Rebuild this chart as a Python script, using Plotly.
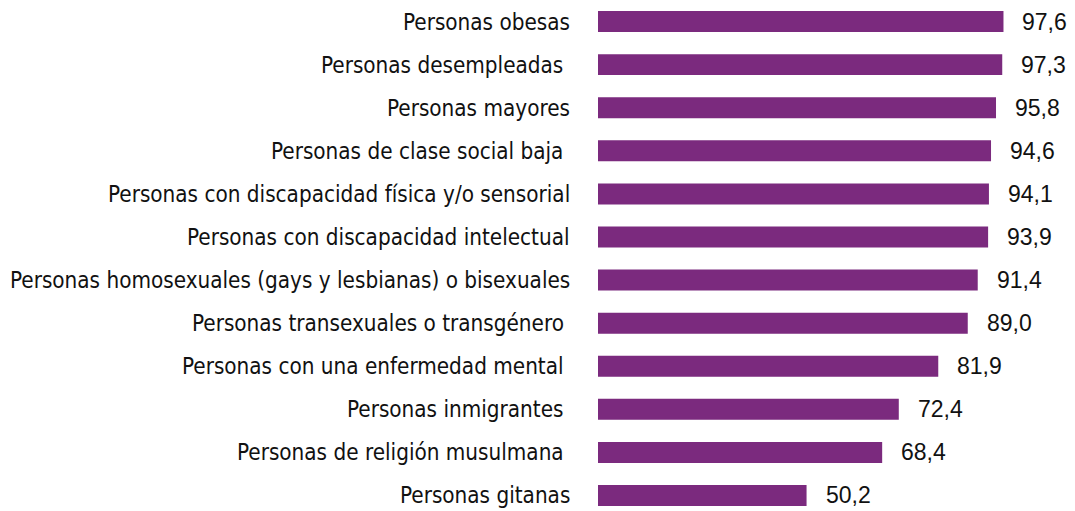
import plotly.graph_objects as go

# Share of respondents (%) per group
categories = [
    "Personas obesas",
    "Personas desempleadas ",
    "Personas mayores",
    "Personas de clase social baja ",
    "Personas con discapacidad física y/o sensorial",
    "Personas con discapacidad intelectual",
    "Personas homosexuales (gays y lesbianas) o bisexuales",
    "Personas transexuales o transgénero ",
    "Personas con una enfermedad mental ",
    "Personas inmigrantes ",
    "Personas de religión musulmana ",
    "Personas gitanas",
]
values = [97.6, 97.3, 95.8, 94.6, 94.1, 93.9, 91.4, 89.0, 81.9, 72.4, 68.4, 50.2]

BAR_COLOR = "#7b2a7e"
LABEL_FONT = dict(family="DejaVu Sans Condensed, Arial Narrow, sans-serif",
                  size=22.3, color="#111111")
VALUE_FONT = dict(family="Liberation Sans, Arial, sans-serif", size=23, color="#111111")


def keep_trailing(s):
    body = s.rstrip()
    return body + "\u00a0" * (len(s) - len(body))


fig = go.Figure(
    go.Bar(
        x=values,
        y=categories,
        orientation="h",
        marker=dict(color=BAR_COLOR, line=dict(width=0)),
        hoverinfo="skip",
    )
)

annotations = []
for cat, val in zip(categories, values):
    # category label, right-aligned left of the bars
    annotations.append(dict(
        x=0, y=cat, xref="x", yref="y", text=keep_trailing(cat),
        xanchor="right", yanchor="middle", showarrow=False,
        xshift=-26, font=LABEL_FONT,
    ))
    # value label with decimal comma
    annotations.append(dict(
        x=val, y=cat, xref="x", yref="y", text=f"{val:.1f}".replace(".", ","),
        xanchor="left", yanchor="middle", showarrow=False,
        xshift=17, font=VALUE_FONT,
    ))

fig.update_layout(
    width=1075,
    height=511,
    margin=dict(l=598, r=20, t=0, b=0),
    paper_bgcolor="white",
    plot_bgcolor="white",
    bargap=0.513,
    showlegend=False,
    annotations=annotations,
    xaxis=dict(range=[0, 110], visible=False, fixedrange=True),
    yaxis=dict(
        type="category",
        categoryorder="array",
        categoryarray=categories,
        range=[11.36, -0.5],
        showticklabels=False,
        showgrid=False,
        zeroline=False,
        showline=False,
        ticks="",
    ),
)

fig.write_html("out.html")
